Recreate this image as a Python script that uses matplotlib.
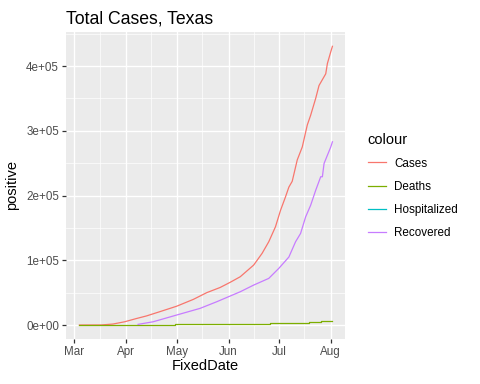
import pandas as pd
import matplotlib.pyplot as plt
import matplotlib.dates as mdates
from matplotlib.ticker import MultipleLocator, FuncFormatter

plt.rcParams['font.family'] = ['Liberation Sans', 'DejaVu Sans']

# values (thousands)
case_dates = ['2020-03-04', '2020-03-17', '2020-03-24', '2020-03-31', '2020-04-07', '2020-04-13',
              '2020-04-21', '2020-05-01', '2020-05-11', '2020-05-19', '2020-05-27', '2020-06-02',
              '2020-06-08', '2020-06-16', '2020-06-21', '2020-06-25', '2020-06-29', '2020-07-02',
              '2020-07-05', '2020-07-07', '2020-07-09', '2020-07-12', '2020-07-15', '2020-07-18',
              '2020-07-20', '2020-07-23', '2020-07-25', '2020-07-29', '2020-07-30', '2020-08-01',
              '2020-08-02']
cases = [0, 0.1, 1.5, 5, 10, 14, 20.6, 29, 39.6, 50, 58, 66, 74.6, 92.6, 110.6, 128.6, 151.7,
         177, 198, 213, 222, 255, 275, 309, 324, 350, 370, 388, 404, 422, 430.5]

rec_dates = ['2020-04-08', '2020-04-17', '2020-05-01', '2020-05-15', '2020-05-25', '2020-06-02',
             '2020-06-08', '2020-06-16', '2020-06-25', '2020-07-01', '2020-07-07', '2020-07-11',
             '2020-07-14', '2020-07-17', '2020-07-20', '2020-07-23', '2020-07-25', '2020-07-26',
             '2020-07-27', '2020-07-28', '2020-08-01', '2020-08-02']
recovered = [1, 5, 15.4, 25.7, 36, 44.8, 51.4, 61.7, 72, 87.5, 105, 128.6, 141.5, 167, 185, 208,
             222, 229, 229, 249.5, 275, 283]

death_dates = ['2020-03-04', '2020-04-30', '2020-06-26', '2020-07-19', '2020-07-26', '2020-08-02']
deaths = [0, 1.5, 2.6, 4.1, 5.7, 5.7]

hosp_dates = []
hospitalized = []

fig = plt.figure(figsize=(4.8, 3.84), dpi=100)
ax = fig.add_axes([66/480, 1 - 339/384, (345-66)/480, (339-32)/384])
ax.set_facecolor('#EBEBEB')

ax.plot(pd.to_datetime(case_dates), [v*1000 for v in cases], color='#F8766D', lw=0.9, label='Cases')
ax.plot(pd.to_datetime(death_dates), [v*1000 for v in deaths], color='#7CAE00', lw=0.9,
        drawstyle='steps-post', label='Deaths')
ax.plot(pd.to_datetime(hosp_dates), hospitalized, color='#00BFC4', lw=0.9, label='Hospitalized')
ax.plot(pd.to_datetime(rec_dates), [v*1000 for v in recovered], color='#C77CFF', lw=0.9, label='Recovered')

ax.set_xlim(pd.Timestamp('2020-02-25'), pd.Timestamp('2020-08-09 12:00'))
ax.set_ylim(-21600, 452600)

ax.xaxis.set_major_locator(mdates.MonthLocator())
ax.xaxis.set_minor_locator(mdates.MonthLocator(bymonthday=16))
ax.xaxis.set_major_formatter(mdates.DateFormatter('%b'))
ax.yaxis.set_major_locator(MultipleLocator(100000))
ax.yaxis.set_minor_locator(MultipleLocator(50000))
ax.yaxis.set_major_formatter(FuncFormatter(lambda v, p: '%de+05' % (v/100000) if v else '0e+00'))

ax.grid(which='major', color='white', lw=1.0)
ax.grid(which='minor', color='white', lw=0.5)
ax.set_axisbelow(True)
for s in ax.spines.values():
    s.set_visible(False)
ax.tick_params(which='major', length=3, width=0.9, color='#333333', labelsize=8.4,
               labelcolor='#4D4D4D', pad=2)
ax.tick_params(which='minor', length=0)

ax.set_xlabel('FixedDate', fontsize=10.5, labelpad=1)
ax.set_ylabel('positive', fontsize=10.5, labelpad=5)
ax.set_title('Total Cases, Texas', fontsize=12.7, loc='left', pad=6)

leg = fig.legend(loc='upper left', bbox_to_anchor=(357/480, 1 - 122/384), frameon=False,
                 title='colour', fontsize=8.4, title_fontsize=10.5, handlelength=1.6,
                 labelspacing=0.95, alignment='left', handletextpad=0.7)

plt.savefig('out.png', dpi=100)
